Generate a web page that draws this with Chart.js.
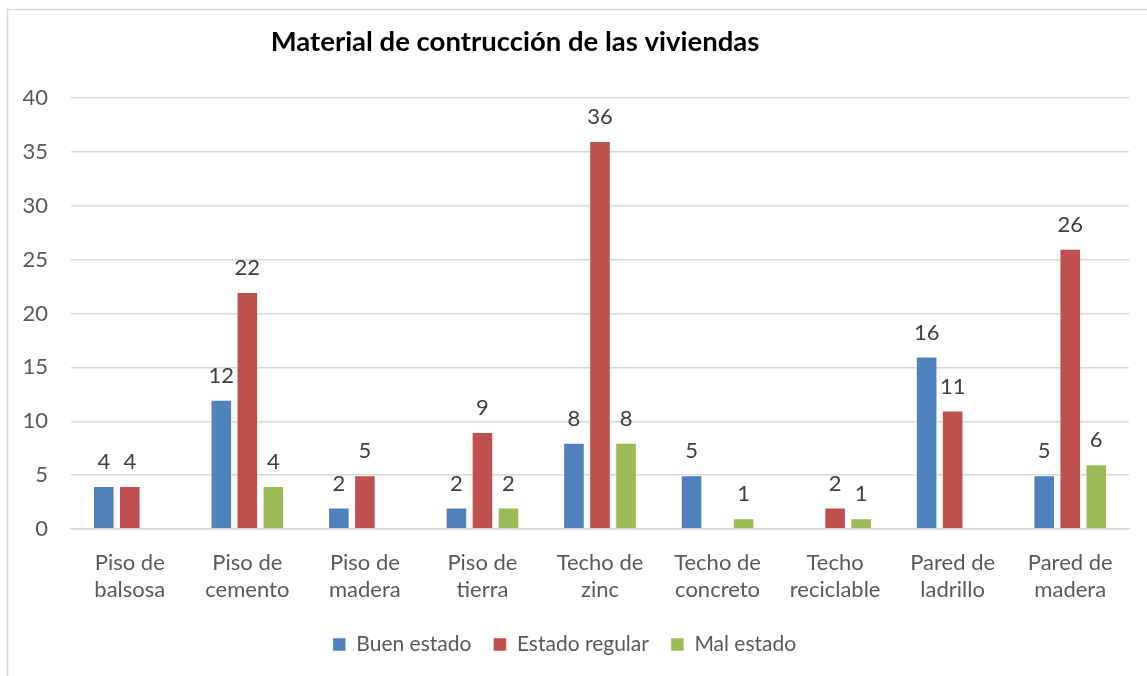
<!DOCTYPE html>
<html>
<head>
<meta charset="utf-8">
<script src="https://cdn.jsdelivr.net/npm/chart.js@4.4.0/dist/chart.umd.min.js"></script>
<style>
  html, body { margin: 0; padding: 0; background: #fff; }
  #wrap { width: 1147px; height: 676px; position: relative; }
</style>
</head>
<body>
<div id="wrap"><canvas id="myChart" width="1147" height="676"></canvas></div>
<script>
const chartTitle = 'Material de contrucción de las viviendas';
const categories = [
    ['Piso de', 'balsosa'], ['Piso de', 'cemento'], ['Piso de', 'madera'],
    ['Piso de', 'tierra'], ['Techo de', 'zinc'], ['Techo de', 'concreto'],
    ['Techo', 'reciclable'], ['Pared de', 'ladrillo'], ['Pared de', 'madera']
];
const buenEstado = [4, 12, 2, 2, 8, 5, null, 16, 5];
const estadoRegular = [4, 22, 5, 9, 36, null, 2, 11, 26];
const malEstado = [null, 4, null, 2, 8, 1, 1, null, 6];
const yTicks = [0, 5, 10, 15, 20, 25, 30, 35, 40];

const fontName = 'Lato, "Open Sans", sans-serif';

// frame, title and value labels
const extras = {
    id: 'extras',
    beforeDraw(chart) {
        const c = chart.ctx;
        c.save();
        c.strokeStyle = '#D9D9D9';
        c.lineWidth = 1.5;
        c.strokeRect(7.5, 9.5, 1200, 700);
        c.restore();
    },
    afterDatasetsDraw(chart) {
        const c = chart.ctx;
        c.save();
        c.font = 'bold 27.5px ' + fontName;
        c.fillStyle = '#000';
        c.textAlign = 'center';
        c.textBaseline = 'middle';
        c.fillText(chartTitle, 515, 42);

        c.font = '22px ' + fontName;
        c.fillStyle = '#404040';
        chart.data.datasets.forEach((ds, i) => {
            const meta = chart.getDatasetMeta(i);
            meta.data.forEach((bar, j) => {
                if (ds.data[j] == null) return;
                c.fillText(String(ds.data[j]), bar.x, bar.y - 24);
            });
        });
        c.restore();
    }
};

const ctx = document.getElementById('myChart');
const myChart = new Chart(ctx, {
    type: 'bar',
    data: {
        labels: categories,
        datasets: [{
            label: 'Buen estado',
            data: buenEstado,
            backgroundColor: '#4F81BD',
            borderColor: 'rgba(255,255,255,0.5)',
            borderWidth: 1
        }, {
            label: 'Estado regular',
            data: estadoRegular,
            backgroundColor: '#C0504D',
            borderColor: 'rgba(255,255,255,0.5)',
            borderWidth: 1
        }, {
            label: 'Mal estado',
            data: malEstado,
            backgroundColor: '#9BBB59',
            borderColor: 'rgba(255,255,255,0.5)',
            borderWidth: 1
        }]
    },
    options: {
        responsive: false,
        animation: false,
        categoryPercentage: 0.664,
        barPercentage: 0.83,
        layout: {
            padding: {top: 98, left: 0, right: 18, bottom: 11}
        },
        plugins: {
            legend: {
                position: 'bottom',
                labels: {
                    boxWidth: 13,
                    boxHeight: 13,
                    padding: 22,
                    color: '#595959',
                    font: {family: fontName, size: 21}
                }
            },
            tooltip: {enabled: false}
        },
        scales: {
            x: {
                grid: {display: false},
                border: {color: '#D9D9D9', width: 1.5},
                ticks: {
                    color: '#595959',
                    maxRotation: 0,
                    padding: 12,
                    font: {family: fontName, size: 22, lineHeight: 1.23}
                },
                afterFit(s) { s.height = 83; }
            },
            y: {
                min: 0,
                max: 40,
                afterBuildTicks(s) { s.ticks = yTicks.map(v => ({value: v})); },
                grid: {color: '#D9D9D9', lineWidth: 1.5, drawTicks: false},
                border: {display: false},
                ticks: {
                    color: '#595959',
                    padding: 23,
                    font: {family: fontName, size: 22}
                },
                afterFit(s) { s.width = 71; }
            }
        }
    },
    plugins: [extras]
});
</script>
</body>
</html>
